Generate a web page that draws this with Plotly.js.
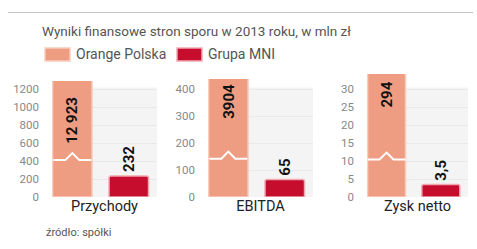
<!DOCTYPE html>
<html><head><meta charset="utf-8">
<script src="https://cdn.plot.ly/plotly-3.0.1.min.js"></script>
<style>html,body{margin:0;padding:0;background:#fff}#chart{width:477px;height:249px}</style>
</head><body><div id="chart"></div>
<script>
// ---- data ----
const panels = ['Przychody', 'EBITDA', 'Zysk netto'];
const seriesNames = ['Orange Polska', 'Grupa MNI'];
const orangeValues = [12923, 3904, 294];
const mniValues = [232, 65, 3.5];
const tickMax = [1200, 400, 30];
const tickStep = [200, 100, 5];
const breakValues = [410, 142, 10.4];
const titleText = 'Wyniki finansowe stron sporu w 2013 roku, w mln zł';
const sourceText = 'źródło: spółki';

// ---- layout config ----
const W = 477, H = 249;
const colOrange = '#EE9D82', colMni = '#C70D2D';
const xDomPx = [[52, 157], [208, 313], [367, 468]];
const yBottomPx = 197;
const yTopPx = [81, 79, 74];
const tickToTopPx = 108; // px between 0 and top tick
const labelTopPx = [95, 82, 80];
const font = 'Roboto, "Open Sans", sans-serif';

function fmt(v) {
  let s = String(v).replace('.', ',');
  if (v >= 10000) s = s.replace(/\B(?=(\d{3})+(?!\d))/g, ' ');
  return s;
}
const py = p => (H - p) / H;
const px = p => p / W;

const data = [];
const shapes = [];
const annotations = [];
const layout = {
  width: W, height: H,
  margin: {l: 0, r: 0, t: 0, b: 0},
  paper_bgcolor: '#fff', plot_bgcolor: 'rgba(0,0,0,0)',
  showlegend: false,
  font: {family: font, color: '#555'},
  barcornerradius: 2,
  title: {text: titleText, x: px(42), xanchor: 'left', xref: 'paper', y: py(31), yanchor: 'middle', yref: 'paper',
          font: {family: font, size: 13.5, color: '#555'}},
};

panels.forEach((name, i) => {
  const s = i === 0 ? '' : String(i + 1);
  // y range: top tick sits tickToTopPx above bottom
  const pxPerUnit = tickToTopPx / tickMax[i];
  const rangeTop = (yBottomPx - yTopPx[i]) / pxPerUnit;
  layout['xaxis' + s] = {
    domain: [px(xDomPx[i][0]), px(xDomPx[i][1])],
    range: [-0.36, 1.5], anchor: 'y' + s,
    showticklabels: false, showgrid: false, zeroline: false, showline: false, ticks: '',
    title: {text: name, standoff: 3, font: {family: font, size: 14.5, color: '#222'}}
  };
  layout['yaxis' + s] = {
    domain: [py(yBottomPx), py(yTopPx[i])],
    range: [0, rangeTop], anchor: 'x' + s,
    tick0: 0, dtick: tickStep[i],
    showgrid: true, gridcolor: '#e9e9e9', gridwidth: 1,
    zeroline: false, showline: false, ticks: '',
    ticklabelstandoff: 12,
    tickfont: {family: font, size: 11.5, color: '#888'}
  };
  // background panel
  shapes.push({type: 'rect', layer: 'below', xref: 'x' + s + ' domain', yref: 'y' + s,
    x0: 0, x1: 1, y0: 0, y1: tickMax[i] + 1.5 / pxPerUnit, fillcolor: '#f4f4f4', line: {width: 0}});

  data.push({type: 'bar', x: [0], y: [orangeValues[i]], width: 0.7, xaxis: 'x' + s, yaxis: 'y' + s,
    name: seriesNames[0], marker: {color: colOrange, line: {color: '#F8CDBD', width: 1.5}}, hoverinfo: 'skip'});
  data.push({type: 'bar', x: [1], y: [mniValues[i]], width: 0.7, xaxis: 'x' + s, yaxis: 'y' + s,
    name: seriesNames[1], marker: {color: colMni, line: {color: '#EFA9B2', width: 1.5}}, hoverinfo: 'skip'});

  // axis break mark on the orange bar
  shapes.push({type: 'path', layer: 'above', xref: 'x' + s, yref: 'y' + s,
    xsizemode: 'pixel', xanchor: 0, ysizemode: 'pixel', yanchor: breakValues[i],
    path: 'M-19,0 L-7,0 L0,7 L7,0 L19,0', line: {color: '#ffffff', width: 2}});

  // value labels
  annotations.push({xref: 'x' + s, yref: 'paper', x: 0, y: py(labelTopPx[i]), yanchor: 'top', xanchor: 'center',
    text: fmt(orangeValues[i]), textangle: -90, showarrow: false,
    font: {family: font, size: 15, color: '#111', weight: 'bold'}});
  annotations.push({xref: 'x' + s, yref: 'y' + s, x: 1, y: mniValues[i], yanchor: 'bottom', xanchor: 'center', yshift: 2,
    text: fmt(mniValues[i]), textangle: -90, showarrow: false,
    font: {family: font, size: 15, color: '#111', weight: 'bold'}});
});

// top rule
shapes.push({type: 'line', xref: 'paper', yref: 'paper', x0: px(8), x1: px(473), y0: py(12.5), y1: py(12.5),
  line: {color: '#c4c4c4', width: 1}});

// legend (built from series names)
const legX = [45, 177];
const legCol = [[colOrange, '#F8CDBD'], [colMni, '#EFA9B2']];
seriesNames.forEach((n, k) => {
  shapes.push({type: 'rect', xref: 'paper', yref: 'paper', x0: px(legX[k]), x1: px(legX[k] + 25), y0: py(61), y1: py(48),
    fillcolor: legCol[k][0], line: {color: legCol[k][1], width: 1.5}});
  annotations.push({xref: 'paper', yref: 'paper', x: px(legX[k] + 29), y: py(54.5), xanchor: 'left', yanchor: 'middle',
    text: n, showarrow: false, font: {family: font, size: 14, color: '#555'}});
});

// source
annotations.push({xref: 'paper', yref: 'paper', x: px(44), y: py(232), xanchor: 'left', yanchor: 'middle',
  text: sourceText, showarrow: false, font: {family: font, size: 11, color: '#555'}});

layout.shapes = shapes;
layout.annotations = annotations;
Plotly.newPlot('chart', data, layout, {displayModeBar: false, staticPlot: true});
</script>
</body></html>
